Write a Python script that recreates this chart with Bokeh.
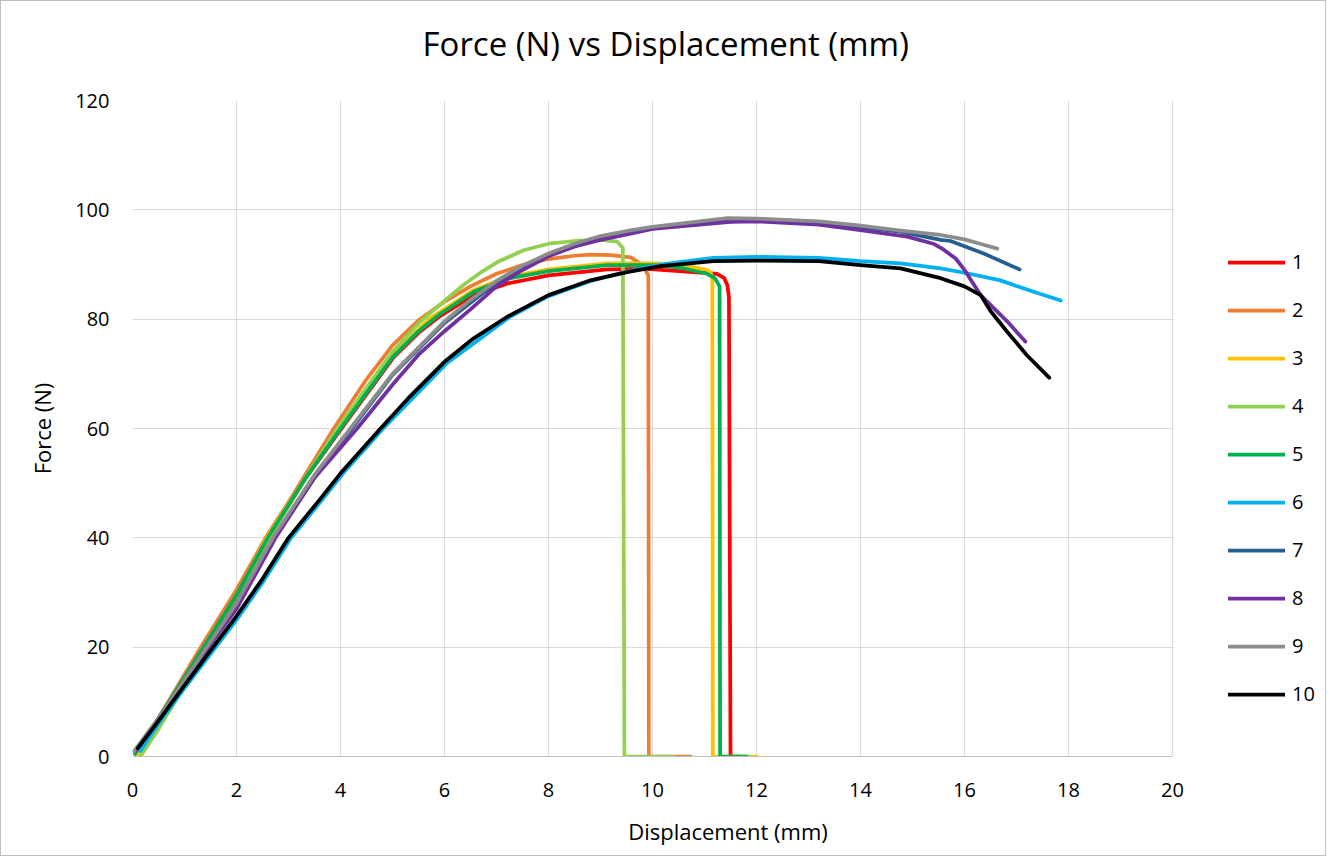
from bokeh.plotting import figure
from bokeh.models import Range1d, FixedTicker, Legend, LegendItem, Title, BoxAnnotation
from bokeh.embed import file_html
from bokeh.resources import INLINE

# ---------------- data ----------------
series_names = ["1", "2", "3", "4", "5", "6", "7", "8", "9", "10"]
series_colors = ["#FF0000", "#ED7D31", "#FFC000", "#92D050", "#00B050",
                 "#00B0F0", "#255E91", "#7030A0", "#8C8C8C", "#000000"]

x_ticks = [0, 2, 4, 6, 8, 10, 12, 14, 16, 18, 20]
y_ticks = [0, 20, 40, 60, 80, 100, 120]

x1 = [0.05, 0.5, 1.0, 1.5, 2.0, 2.62, 3.3, 4.02, 5.02, 5.5, 5.92, 6.56, 7.2, 8.0, 9.13, 9.9, 10.79, 11.24, 11.38, 11.44, 11.47, 11.5, 11.7]
y1 = [0.5, 7.0, 14.5, 22.0, 29.5, 40.0, 50.5, 60.0, 73.0, 77.5, 80.6, 84.4, 86.5, 88.0, 89.1, 89.2, 88.6, 88.3, 87.5, 86.2, 84.0, 0.0, 0.0]

x2 = [0.05, 0.5, 1.0, 1.28, 2.0, 2.56, 3.0, 3.87, 4.5, 5.0, 5.5, 6.0, 6.5, 7.0, 7.5, 8.0, 8.5, 8.81, 9.2, 9.58, 9.8, 9.92, 9.93, 10.74]
y2 = [0.5, 7.0, 15.0, 19.5, 30.5, 40.0, 46.5, 60.0, 69.0, 75.2, 79.8, 83.2, 86.0, 88.3, 89.9, 91.0, 91.6, 91.8, 91.7, 91.3, 90.0, 88.0, 0.0, 0.0]

x3 = [0.1, 0.5, 1.0, 1.5, 2.0, 2.58, 3.3, 3.98, 5.0, 5.7, 6.56, 7.2, 8.0, 9.13, 10.0, 10.54, 11.05, 11.12, 11.15, 11.16, 12.0]
y3 = [0.0, 6.5, 14.0, 21.5, 29.0, 40.0, 50.5, 60.0, 73.3, 80.0, 85.3, 87.7, 89.1, 90.2, 90.2, 90.0, 89.0, 88.5, 87.4, 0.0, 0.0]

x4 = [0.15, 0.5, 1.0, 1.5, 2.0, 2.6, 3.2, 3.94, 4.5, 5.0, 5.54, 6.0, 6.37, 6.69, 7.01, 7.52, 8.0, 8.5, 9.0, 9.32, 9.43, 9.46, 10.4]
y4 = [0.0, 5.0, 13.0, 21.0, 29.0, 39.5, 49.0, 60.0, 67.5, 74.0, 79.6, 83.4, 86.3, 88.5, 90.4, 92.6, 93.8, 94.3, 94.5, 94.2, 93.0, 0.0, 0.0]

x5 = [0.05, 0.5, 1.0, 1.5, 2.0, 2.6, 3.3, 4.0, 5.0, 5.5, 5.92, 6.56, 7.2, 8.0, 9.13, 10.0, 10.54, 11.05, 11.2, 11.29, 11.3, 11.82]
y5 = [0.5, 7.0, 14.5, 22.0, 29.5, 40.0, 50.5, 60.0, 73.0, 77.8, 81.0, 85.0, 87.4, 88.8, 89.9, 89.9, 89.4, 88.3, 87.5, 86.0, 0.0, 0.0]

x6 = [0.15, 0.5, 1.0, 1.6, 2.0, 2.5, 3.05, 3.65, 4.05, 4.82, 6.05, 7.25, 8.0, 8.81, 9.5, 10.15, 11.17, 12.0, 13.2, 14.0, 14.77, 15.54, 16.05, 16.69, 17.33, 17.85]
y6 = [1.0, 6.0, 12.5, 20.0, 25.0, 31.8, 40.0, 47.0, 51.8, 60.0, 72.0, 80.4, 84.2, 87.0, 88.7, 90.0, 91.2, 91.4, 91.2, 90.6, 90.2, 89.3, 88.4, 87.1, 85.0, 83.4]

x7 = [0.05, 0.5, 1.0, 1.5, 2.0, 2.72, 3.5, 4.22, 5.0, 6.0, 7.0, 8.0, 9.0, 10.0, 11.44, 12.0, 13.2, 14.0, 14.77, 15.54, 15.73, 16.37, 17.06]
y7 = [1.0, 7.0, 14.0, 21.0, 28.0, 40.0, 51.0, 60.0, 69.8, 79.3, 86.7, 91.7, 94.9, 96.6, 98.2, 98.1, 97.6, 96.8, 96.0, 94.5, 94.3, 92.0, 89.1]

x8 = [0.05, 0.5, 1.0, 1.5, 2.0, 2.75, 3.5, 4.32, 5.0, 5.5, 6.0, 6.5, 7.0, 7.5, 8.0, 8.5, 9.0, 9.6, 10.0, 11.5, 12.0, 13.2, 14.0, 14.9, 15.4, 15.6, 15.83, 16.0, 16.31, 16.82, 17.17]
y8 = [1.0, 6.5, 13.5, 20.5, 27.0, 40.0, 51.0, 60.0, 68.0, 73.5, 77.8, 81.8, 86.0, 89.0, 91.5, 93.3, 94.5, 95.7, 96.5, 97.8, 97.9, 97.3, 96.3, 95.1, 93.8, 92.7, 91.1, 89.0, 84.4, 79.6, 75.9]

x9 = [0.03, 0.5, 1.0, 1.5, 2.0, 2.7, 3.5, 4.19, 5.0, 6.0, 6.5, 7.0, 7.5, 8.0, 8.5, 9.0, 9.6, 10.0, 11.44, 12.0, 13.2, 14.0, 14.77, 15.54, 16.0, 16.3, 16.63]
y9 = [1.0, 7.0, 14.0, 21.0, 28.0, 40.0, 51.5, 60.0, 70.0, 79.6, 83.5, 87.0, 89.8, 92.0, 93.8, 95.2, 96.3, 96.9, 98.5, 98.4, 97.9, 97.1, 96.2, 95.4, 94.6, 93.8, 92.9]

x10 = [0.1, 0.5, 1.0, 1.55, 2.0, 2.5, 3.0, 3.6, 4.0, 4.77, 5.3, 6.0, 6.56, 7.2, 8.0, 8.81, 9.51, 10.15, 11.17, 12.0, 13.2, 14.0, 14.77, 15.54, 16.0, 16.31, 16.5, 16.82, 17.2, 17.63]
y10 = [1.5, 6.5, 13.0, 20.0, 25.7, 32.5, 40.0, 47.0, 51.8, 60.0, 65.5, 72.2, 76.5, 80.4, 84.4, 87.1, 88.6, 89.7, 90.6, 90.7, 90.6, 89.9, 89.3, 87.5, 86.0, 84.4, 81.5, 77.7, 73.4, 69.3]

xs = [x1, x2, x3, x4, x5, x6, x7, x8, x9, x10]
ys = [y1, y2, y3, y4, y5, y6, y7, y8, y9, y10]

title_text = "Force (N) vs Displacement (mm)"
x_label = "Displacement (mm)"
y_label = "Force (N)"

# ---------------- figure ----------------
FONT = "Open Sans"
FIG_W, LEFT, RIGHT = 1326, 131, 4
PX_PER_UNIT = 52.0                      # 1040 px for 0..20
x_end = (FIG_W - LEFT - RIGHT) / PX_PER_UNIT   # frame continues to host the legend

p = figure(width=FIG_W, height=856, output_backend="svg", toolbar_location=None,
           x_range=Range1d(0, x_end), y_range=Range1d(0, 120),
           min_border_left=LEFT, min_border_right=RIGHT, min_border_top=99, min_border_bottom=101,
           background_fill_color="white", border_fill_color="white")
p.outline_line_color = None
p.styles = {"border": "1px solid #BFBFBF"}

# empty spacer between the title and the plot area (panels added earlier sit nearer the frame)
spacer = Title(text=" ", align="left", text_font=FONT, text_font_size="24px", standoff=0)
p.add_layout(spacer, "above")
t = Title(text=title_text, align="left", offset=290,
          text_font=FONT, text_font_size="33px",
          text_font_style="normal", text_color="#000000", standoff=0)
p.add_layout(t, "above")

p.xaxis.ticker = FixedTicker(ticks=x_ticks)
p.yaxis.ticker = FixedTicker(ticks=y_ticks)
p.xgrid.ticker = FixedTicker(ticks=x_ticks)
p.ygrid.ticker = FixedTicker(ticks=y_ticks)
p.xgrid.grid_line_color = "#D9D9D9"
p.ygrid.grid_line_color = "#D9D9D9"
p.xgrid.grid_line_width = 1
p.ygrid.grid_line_width = 1
p.xaxis.bounds = (x_ticks[0], x_ticks[-1])

# blank out the area right of the plot area (legend zone)
p.add_layout(BoxAnnotation(left=x_ticks[-1] + 0.02, fill_color="white", fill_alpha=1.0,
                           line_color=None, level="underlay"))

for ax in (p.xaxis, p.yaxis):
    ax.major_tick_line_color = None
    ax.minor_tick_line_color = None
    ax.major_label_text_font = FONT
    ax.major_label_text_font_size = "20px"
    ax.major_label_text_color = "#000000"
    ax.axis_label_text_font = FONT
    ax.axis_label_text_font_size = "22px"
    ax.axis_label_text_font_style = "normal"
    ax.axis_label_text_color = "#000000"

p.xaxis.axis_line_color = "#BFBFBF"
p.yaxis.axis_line_color = None
p.xaxis.axis_label = x_label
p.yaxis.axis_label = y_label
p.xaxis.major_label_standoff = 20
p.yaxis.major_label_standoff = 17
p.xaxis.axis_label_standoff = 16
p.yaxis.axis_label_standoff = 15

items = []
for name, color, xv, yv in zip(series_names, series_colors, xs, ys):
    r = p.line(xv, yv, line_color=color, line_width=3.75, line_join="round", line_cap="round")
    items.append(LegendItem(label=name, renderers=[r]))

legend = Legend(items=items, location=(1096, 49), orientation="vertical",
                glyph_width=57, glyph_height=24, label_height=24, label_standoff=7,
                spacing=21, padding=0, margin=0,
                border_line_color=None, background_fill_alpha=0,
                label_text_font=FONT, label_text_font_size="20px", label_text_color="#000000")
p.add_layout(legend, "center")

open("out.html", "w").write(file_html(p, INLINE))
